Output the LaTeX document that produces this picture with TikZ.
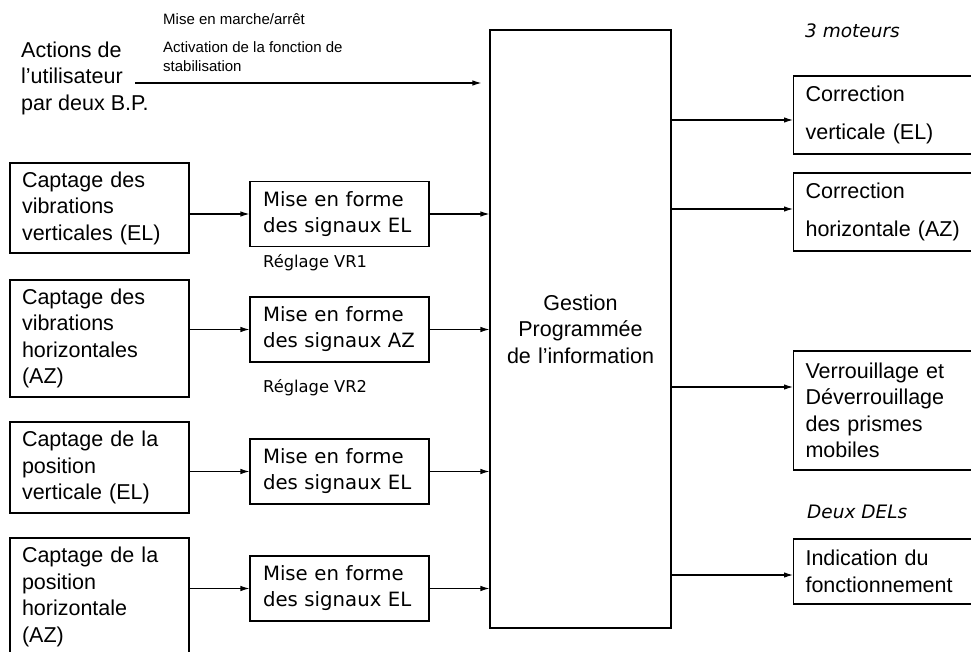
\documentclass[tikz,border=0pt]{standalone}
\usepackage{fontspec}
\setmainfont{Liberation Sans}
\newfontfamily\dejavu{DejaVu Sans}
\usetikzlibrary{arrows.meta}

\tikzset{
 blk/.style={draw,line width=1.1pt,inner xsep=12pt,inner ysep=0pt,align=left,font=\fontsize{21.5}{26.5}\selectfont},
 mef/.style={draw,line width=1.1pt,inner xsep=13pt,inner ysep=0pt,align=left,text width=153pt,minimum height=65pt,font=\dejavu\fontsize{19.7}{26}\selectfont},
 sig/.style={line width=1.1pt,-{Latex[length=9pt,width=5.5pt]}},
 reg/.style={anchor=base west,inner sep=0pt,font=\dejavu\fontsize{16.3}{20}\selectfont},
 note/.style={anchor=base west,inner sep=0pt,font=\dejavu\itshape\fontsize{18.5}{20}\selectfont},
 cmd/.style={anchor=base west,inner sep=0pt,font=\fontsize{15}{19}\selectfont}
}

\begin{document}
\begin{tikzpicture}[x=1pt,y=-1pt]
\useasboundingbox (0,0) rectangle (971,652);
\clip (0,0) rectangle (971,652);
% capteurs
\node[blk,text width=155pt,minimum height=90pt] (cv) at (99.5,208) {Captage des\\vibrations\\verticales (EL)};
\node[blk,text width=155pt,minimum height=117pt] (ch) at (99.5,338.5) {Captage des\\vibrations\\horizontales\\(AZ)};
\node[blk,text width=155pt,minimum height=91pt] (pv) at (99.5,467.5) {Captage de la\\position\\verticale (EL)};
\node[blk,text width=155pt,minimum height=118pt] (ph) at (99.5,597) {Captage de la\\position\\horizontale\\(AZ)};
% mise en forme
\node[mef] (m1) at (339.5,214) {Mise en forme\\des signaux EL};
\node[mef] (m2) at (339.5,329.5) {Mise en forme\\des signaux AZ};
\node[mef] (m3) at (339.5,471.5) {Mise en forme\\des signaux EL};
\node[mef] (m4) at (339.5,588.5) {Mise en forme\\des signaux EL};
\node[reg] (vr1) at (263,267) {Réglage VR1};
\node[reg] (vr2) at (263,392) {Réglage VR2};
% gestion
\node[blk,align=center,text width=157pt,minimum height=598pt] (gp) at (580.5,329) {Gestion\\Programmée\\de l'information};
% sorties
\node[blk,anchor=west,text width=176pt,minimum height=78pt] (r1) at (793,115) {Correction\\[12pt]verticale (EL)};
\node[blk,anchor=west,text width=176pt,minimum height=78pt] (r2) at (793,212) {Correction\\[12pt]horizontale (AZ)};
\node[blk,anchor=west,text width=176pt,minimum height=119pt] (r3) at (793,410.5) {Verrouillage et\\Déverrouillage\\des prismes\\mobiles};
\node[blk,anchor=west,text width=176pt,minimum height=65pt] (r4) at (793,571.5) {Indication du\\fonctionnement};
\node[note] (mot) at (805,38) {3 moteurs};
\node[note] (del) at (807,518) {Deux DELs};
% utilisateur
\node[anchor=west,inner sep=0pt,align=left,font=\fontsize{21.5}{26.5}\selectfont] (act) at (21,78) {Actions de\\l'utilisateur\\par deux B.P.};
\node[cmd] (onoff) at (163,25) {Mise en marche/arrêt};
\node[cmd] (stab1) at (163,53) {Activation de la fonction de};
\node[cmd] (stab2) at (163,72) {stabilisation};
\coordinate (bp) at (135,83);
\draw[sig,shorten >=8pt] (bp) -- (bp -| gp.west);
% liaisons
\foreach \a/\b in {cv/m1,ch/m2,pv/m3,ph/m4}{\draw[sig](\a.east|-\b.west)--(\b.west);\draw[sig](\b.east)--(\b.east-|gp.west);}
\foreach \n/\s in {r1/-5,r2/3,r3/23.5,r4/-3.5}{\coordinate (o) at ([yshift=\s pt]\n.west);\draw[sig](o-|gp.east)--(o);}
\end{tikzpicture}
\end{document}
